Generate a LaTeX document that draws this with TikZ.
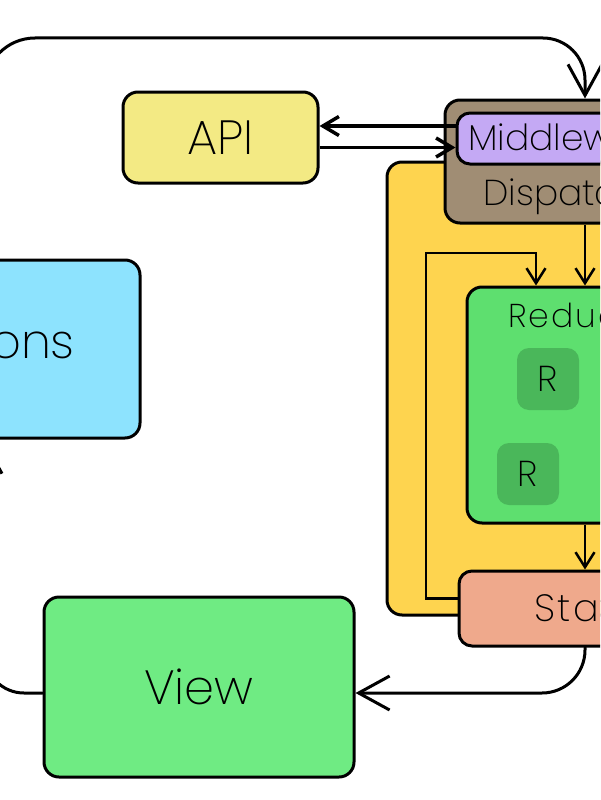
\documentclass[tikz,border=0pt]{standalone}
\usepackage{fontspec}
\setmainfont{Poppins ExtraLight}
\newfontfamily\spacedfont[LetterSpace=6]{Poppins ExtraLight}
\usetikzlibrary{arrows.meta}
\definecolor{apiY}{HTML}{F3EA84}
\definecolor{dispB}{HTML}{A08D74}
\definecolor{mwP}{HTML}{C4A9F4}
\definecolor{contY}{HTML}{FED44F}
\definecolor{redG}{HTML}{5EDF6F}
\definecolor{rDark}{HTML}{4AB75A}
\definecolor{stateS}{HTML}{EFA98C}
\definecolor{viewG}{HTML}{6FEB83}
\definecolor{actB}{HTML}{8DE3FE}
\begin{document}
\begin{tikzpicture}[x=1pt,y=-1pt,
  box/.style={draw=black, line width=3pt, rounded corners=15pt, inner sep=0pt},
  rbox/.style={draw=none, fill=rDark, rounded corners=12pt, inner sep=0pt,
    minimum width=62pt, minimum height=62pt, font=\fontsize{36}{40}\selectfont},
  lblM/.style={inner sep=0pt, font=\fontsize{36}{40}\selectfont},
  lblL/.style={inner sep=0pt, font=\fontsize{48}{52}\selectfont},
  bigarrow/.style={-{Straight Barb[length=31pt,width=34pt]}, line width=3pt, line cap=round},
  medarrow/.style={-{Straight Barb[length=16pt,width=19pt]}, line width=3.5pt},
  smallarrow/.style={-{Straight Barb[length=15pt,width=19pt]}, line width=2.5pt}
]
\useasboundingbox (0,0) rectangle (600,800);
\clip (0,0) rectangle (600,800);

% boxes
\node[box, fill=actB, minimum width=310pt, minimum height=178pt] (actions) at (-15,349) {};
\node[box, fill=apiY, minimum width=195pt, minimum height=91pt, font=\fontsize{48}{52}\selectfont] (api) at (220.5,137.5) {API};
\node[box, fill=viewG, minimum width=310pt, minimum height=180pt, font=\fontsize{48}{52}\selectfont] (view) at (199,687) {View};
\node[box, fill=contY, minimum width=396pt, minimum height=453pt] (store) at (585,388.5) {};
\node[box, fill=dispB, minimum width=280pt, minimum height=123pt] (disp) at (585,161.5) {};
\node[box, fill=mwP, minimum width=256pt, minimum height=51pt, rounded corners=13pt] (mw) at (585,138.5) {};
\node[box, fill=redG, minimum width=236pt, minimum height=236pt] (red) at (585,405) {};
\node[rbox] (r1) at (548,379) {R};
\node[rbox] (r2) at (528,474) {R};
\node[box, fill=stateS, minimum width=252pt, minimum height=75pt, rounded corners=13pt] (state) at (585,608.5) {};

% labels
\node[lblL, anchor=base east] (actionsT) at (75,358) {Actions};
\node[lblM, anchor=base west] (mwT) at (468,150) {Middleware};
\node[lblM, anchor=base west] (dispT) at (483,205) {Dispatcher};
\node[inner sep=0pt, font=\spacedfont\fontsize{33}{36}\selectfont, anchor=base west] (redT) at (508,327) {Reducers};
\node[inner sep=0pt, font=\spacedfont\fontsize{38}{42}\selectfont, anchor=base west] (stateT) at (534,621) {State};

% connectors
\coordinate (topmid) at (300,38);
\draw[bigarrow] (actions.north) [rounded corners=50pt] |- (topmid) [rounded corners=42pt] -| (disp.north);
\draw[bigarrow, rounded corners=43pt] (state.south) |- ([yshift=-6pt]view.east);
\draw[bigarrow, rounded corners=39pt] ([yshift=-6pt]view.west) -| (actions.south);

\draw[medarrow] ([yshift=12.5pt]mw.west) -- ([yshift=12.5pt]mw.west -| api.east);
\draw[medarrow] ([yshift=-10pt]api.east) -- ([yshift=-10pt]api.east -| mw.west);

\draw[smallarrow] (disp.south) -- (red.north);
\draw[smallarrow] (red.south) -- (state.north);
\coordinate (loopC) at (426,253);
\draw[smallarrow] ([yshift=10pt]state.west) -| (loopC) -| ([xshift=-49pt]red.north);
\end{tikzpicture}
\end{document}
